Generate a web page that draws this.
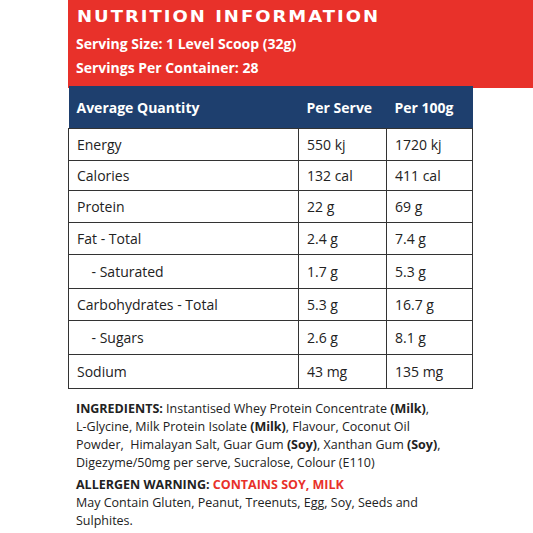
<!DOCTYPE html>
<html><head><meta charset="utf-8">
<script src="https://cdn.jsdelivr.net/npm/chart.js@4"></script>
<style>
body{margin:0;width:533px;height:533px;background:#fff;font-family:"Open Sans",sans-serif;position:relative;overflow:hidden}
#red{position:absolute;left:68px;top:0;width:465px;height:88px;background:#e8312a;color:#fff}
#red .t{position:absolute;left:9px;top:6px;font-family:"DejaVu Sans";font-weight:bold;font-size:18px;letter-spacing:2px;transform:scaleY(0.85)}
#red .l{position:absolute;left:8px;font-weight:bold;font-size:14px}
#tbl{position:absolute;left:68px;top:86px;border-collapse:collapse;font-size:14px;color:#222}
#tbl th{background:#1e3f6e;color:#fff;text-align:left;font-weight:bold;height:42px;padding:0 0 0 8px;font-size:14px}
#tbl td{border:1px solid #333;padding:0 0 0 8px}
#notes{position:absolute;left:76px;top:400px;width:380px;font-size:12.5px;line-height:18px;color:#222}
b{color:#222}
.w{color:#e8312a;font-weight:bold}
</style></head><body>
<div id="red"><div class="t">NUTRITION INFORMATION</div>
<div class="l" style="top:34px">Serving Size: 1 Level Scoop (32g)</div>
<div class="l" style="top:58px">Servings Per Container: 28</div></div>
<table id="tbl"></table>
<div id="notes"><b>INGREDIENTS:</b> Instantised Whey Protein Concentrate <b>(Milk)</b>,<br>L-Glycine, Milk Protein Isolate <b>(Milk)</b>, Flavour, Coconut Oil<br>Powder, &nbsp;Himalayan Salt, Guar Gum <b>(Soy)</b>, Xanthan Gum <b>(Soy)</b>,<br>Digezyme/50mg per serve, Sucralose, Colour (E110)<div style="margin-top:4px"><b>ALLERGEN WARNING:</b> <span class="w">CONTAINS SOY, MILK</span></div>May Contain Gluten, Peanut, Treenuts, Egg, Soy, Seeds and<br>Sulphites.</div>
<script>
const headers=["Average Quantity","Per Serve","Per 100g"];
const nutrients=["Energy","Calories","Protein","Fat - Total","&nbsp;&nbsp;&nbsp;&nbsp;- Saturated","Carbohydrates - Total","&nbsp;&nbsp;&nbsp;&nbsp;- Sugars","Sodium"];
const perServe=["550 kj","132 cal","22 g","2.4 g","1.7 g","5.3 g","2.6 g","43 mg"];
const per100g=["1720 kj","411 cal","69 g","7.4 g","5.3 g","16.7 g","8.1 g","135 mg"];
const heights=[32,30,32,32,34,32,34,34];
const widths=[230,88,86];
let h="<tr>"+headers.map((x,i)=>`<th style="width:${widths[i]-8}px">${x}</th>`).join("")+"</tr>";
nutrients.forEach((n,i)=>{h+=`<tr style="height:${heights[i]}px"><td>${n}</td><td>${perServe[i]}</td><td>${per100g[i]}</td></tr>`;});
document.getElementById("tbl").innerHTML=h;
</script></body></html>
